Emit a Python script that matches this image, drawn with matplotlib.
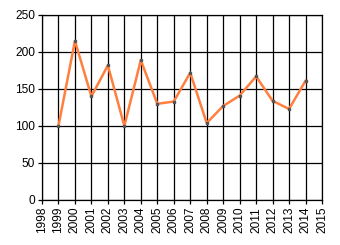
import matplotlib
matplotlib.use("Agg")
import matplotlib.pyplot as plt

# data
years = [1999, 2000, 2001, 2002, 2003, 2004, 2005, 2006,
         2007, 2008, 2009, 2010, 2011, 2012, 2013, 2014]
values = [100, 215, 140, 182, 100, 189, 130, 133,
          172, 104, 127, 141, 167, 134, 123, 161]
xticks = list(range(1998, 2016))
yticks = [0, 50, 100, 150, 200, 250]

plt.rcParams['font.family'] = ['Liberation Sans', 'DejaVu Sans']

fig = plt.figure(figsize=(3.4, 2.45), dpi=100)
ax = fig.add_axes([0.1235, 0.1837, 0.8235, 0.7551])

ax.plot(years, values, color='#ff7f3f', lw=1.8, zorder=3,
        marker='s', markersize=1.8, markerfacecolor='#555555',
        markeredgecolor='#555555')

ax.set_xlim(1998, 2015)
ax.set_ylim(0, 250)
ax.set_xticks(xticks)
ax.set_xticklabels([str(y) for y in xticks], rotation=90)
ax.set_yticks(yticks)
ax.grid(True, color='black', lw=0.9)
ax.set_axisbelow(True)

for s in ax.spines.values():
    s.set_color('black')
    s.set_linewidth(0.9)

ax.tick_params(axis='both', direction='out', length=3, width=0.9,
               labelsize=8.6, colors='black', pad=2)

plt.savefig('out.png', dpi=100)
plt.close(fig)
